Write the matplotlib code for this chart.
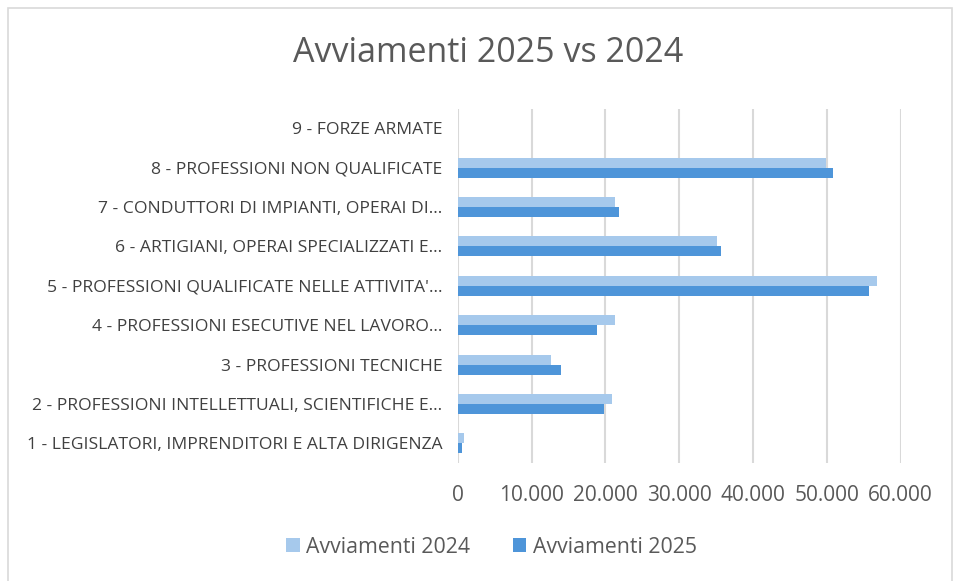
import matplotlib.pyplot as plt
import matplotlib.patches as mpatches
import numpy as np

categories = [
    "1 - LEGISLATORI, IMPRENDITORI E ALTA DIRIGENZA",
    "2 - PROFESSIONI INTELLETTUALI, SCIENTIFICHE E...",
    "3 - PROFESSIONI TECNICHE",
    "4 - PROFESSIONI ESECUTIVE NEL LAVORO...",
    "5 - PROFESSIONI QUALIFICATE NELLE ATTIVITA'...",
    "6 - ARTIGIANI, OPERAI SPECIALIZZATI E...",
    "7 - CONDUTTORI DI IMPIANTI, OPERAI DI...",
    "8 - PROFESSIONI NON QUALIFICATE",
    "9 - FORZE ARMATE",
]
avv_2024 = [850, 20900, 12600, 21300, 56750, 35100, 21350, 49900, 0]
avv_2025 = [620, 19820, 13990, 18870, 55750, 35600, 21890, 50880, 0]
xticks = [0, 10000, 20000, 30000, 40000, 50000, 60000]
xtick_labels = ["0", "10.000", "20.000", "30.000", "40.000", "50.000", "60.000"]

plt.rcParams['font.family'] = ['Open Sans', 'DejaVu Sans']

fig = plt.figure(figsize=(9.56, 5.81), dpi=100)
fig.patches.append(mpatches.Rectangle((0.008, -0.01), 0.988, 0.997, transform=fig.transFigure,
                                      fill=False, edgecolor='#d9d9d9', linewidth=1.2))
ax = fig.add_axes([0.4788, 0.2031, 0.4634, 0.61])

y = np.arange(len(categories))
h = 0.255
ax.barh(y + h / 2, avv_2024, height=h, color='#a6c9ec', label='Avviamenti 2024', zorder=3)
ax.barh(y - h / 2, avv_2025, height=h, color='#4e95d9', label='Avviamenti 2025', zorder=3)

ax.set_xlim(0, 60000)
ax.set_ylim(-0.5, len(categories) - 0.5)
ax.set_yticks(y)
ax.set_yticklabels(categories, fontsize=12.6, color='#404040')
ax.set_xticks(xticks)
ax.set_xticklabels(xtick_labels, fontsize=15, color='#595959')
ax.tick_params(axis='both', length=0)
ax.tick_params(axis='y', pad=11)
ax.tick_params(axis='x', pad=16)
ax.grid(axis='x', color='#d9d9d9', linewidth=1.5, zorder=0)
for s in ax.spines.values():
    s.set_visible(False)

fig.text(0.511, 0.908, 'Avviamenti 2025 vs 2024', ha='center', va='center', fontsize=24.5, color='#595959')
fig.legend(loc='center', bbox_to_anchor=(0.514, 0.058), ncol=2, frameon=False, fontsize=15.3,
           handlelength=0.65, handleheight=0.65, handletextpad=0.3, columnspacing=2.0,
           labelcolor='#595959')

fig.savefig('out.png', dpi=100)
